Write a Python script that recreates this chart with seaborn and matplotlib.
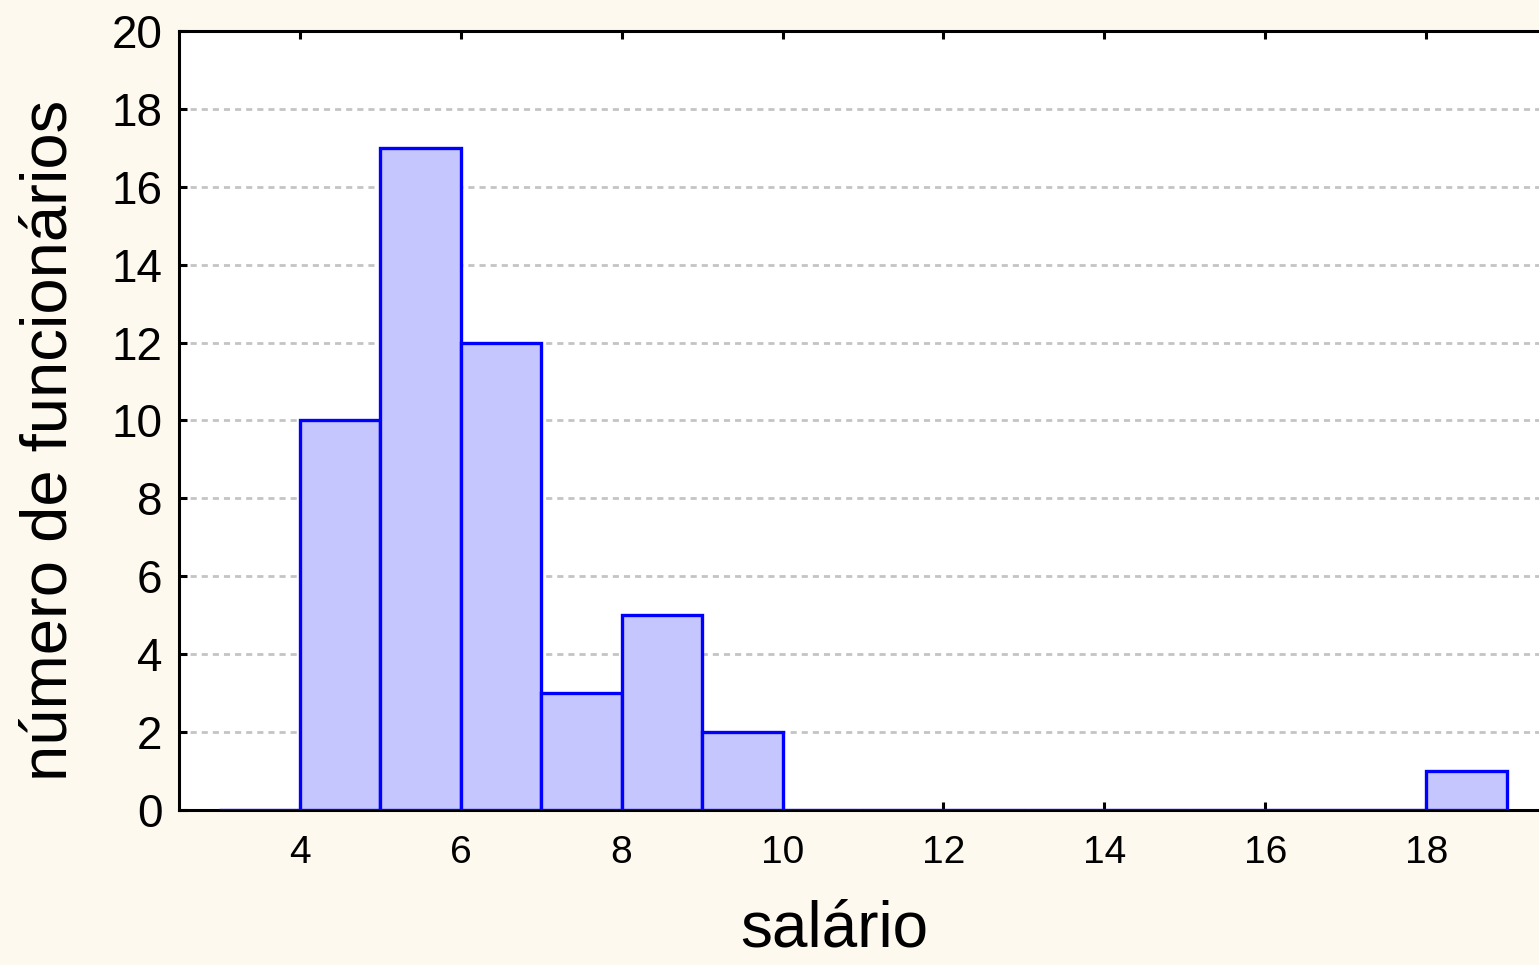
import numpy as np
import pandas as pd
import matplotlib
matplotlib.use('Agg')
import matplotlib.pyplot as plt
import seaborn as sns

salario_inicio = [3, 4, 5, 6, 7, 8, 9, 10, 11, 12, 13, 14, 15, 16, 17, 18]
num_funcionarios = [0, 10, 17, 12, 3, 5, 2, 0, 0, 0, 0, 0, 0, 0, 0, 1]
limites_classes = [3, 4, 5, 6, 7, 8, 9, 10, 11, 12, 13, 14, 15, 16, 17, 18, 19]
xticks = [4, 6, 8, 10, 12, 14, 16, 18]
yticks = [0, 2, 4, 6, 8, 10, 12, 14, 16, 18, 20]

df = pd.DataFrame({
    'centro': np.array(salario_inicio) + 0.5,
    'n': num_funcionarios,
})

sns.set_style('white')
plt.rcParams['font.family'] = ['Liberation Sans', 'DejaVu Sans']

fig = plt.figure(figsize=(15.39, 9.65), dpi=100)
fig.patch.set_facecolor('#FEF9EE')
ax = fig.add_axes([179 / 1539, 1 - 810 / 965, 1 - 179 / 1539, (810 - 31) / 965])
ax.set_facecolor('white')

sns.histplot(data=df, x='centro', weights='n', bins=limites_classes,
             color='#C6C6FF', edgecolor='#0000FF', linewidth=2.4, alpha=1,
             ax=ax)

# barras por cima do eixo, para as classes vazias aparecerem como linha azul
for p in ax.patches:
    p.set_zorder(4)

ax.set_xlim(2.5, 19.4)
ax.set_ylim(0, 20)
ax.set_xticks(xticks)
ax.set_yticks(yticks)
ax.set_xticklabels([str(v) for v in xticks], fontsize=28, color='black')
ax.set_yticklabels([str(v) for v in yticks], fontsize=33, color='black')

# Grade tracejada cinza
ax.set_axisbelow(True)
ax.yaxis.grid(True, linestyle=(0, (2.2, 1.8)), color='#C4C4C4', linewidth=2)
ax.xaxis.grid(False)

for s in ['left', 'top', 'bottom']:
    ax.spines[s].set_visible(True)
    ax.spines[s].set_linewidth(2.2)
    ax.spines[s].set_color('black')
ax.spines['right'].set_visible(False)

ax.tick_params(axis='both', direction='in', length=6, width=2.2, colors='black', pad=10)
ax.tick_params(axis='x', top=True, bottom=True, labeltop=False, pad=18)
ax.tick_params(axis='y', left=True, right=False, pad=12)

ax.set_xlabel('salário', fontsize=46, color='black')
ax.set_ylabel('número de funcionários', fontsize=47, color='black')
ax.xaxis.set_label_coords(0.482, -0.1155)
ax.yaxis.set_label_coords(-0.073, 0.475)

fig.savefig('out.png', dpi=100, facecolor=fig.get_facecolor())
